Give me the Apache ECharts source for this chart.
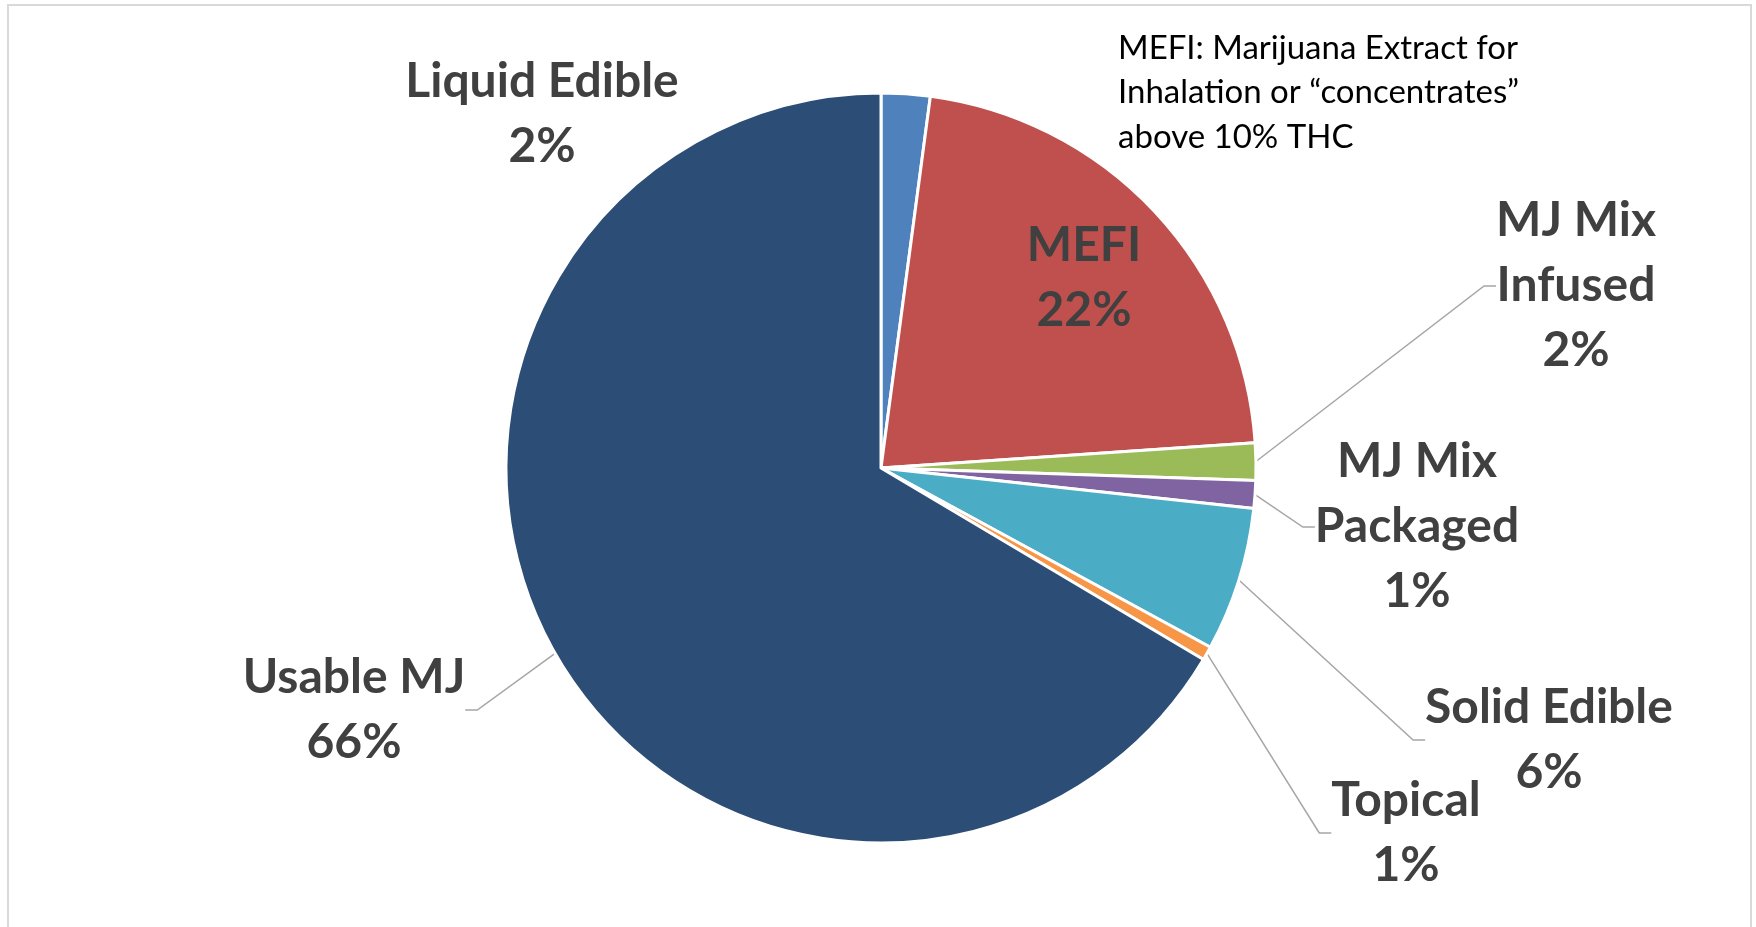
<!DOCTYPE html>
<html>
<head>
<meta charset="utf-8">
<script src="https://cdn.jsdelivr.net/npm/echarts@6/dist/echarts.min.js"></script>
<style>
html,body{margin:0;padding:0;background:#fff;}
#chart{width:1756px;height:927px;}
</style>
</head>
<body>
<div id="chart"></div>
<script>
// ---- data ----
const categories = ['Liquid Edible', 'MEFI', 'MJ Mix\nInfused', 'MJ Mix\nPackaged', 'Solid Edible', 'Topical', 'Usable MJ'];
const shares = [2.1, 21.8, 1.6, 1.2, 6.2, 0.6, 66.4];
const noteLines = ['MEFI: Marijuana Extract for', 'Inhalation or \u201cconcentrates\u201d', 'above 10% THC'];

// ---- styles / layout (kept apart from data) ----
const colors = ['#4F81BD', '#C0504D', '#9BBB59', '#8064A2', '#4BACC6', '#F79646', '#2C4D75'];
const labelCenters = [[542, 114], [1084, 278], [1576, 286], [1417, 527], [1549, 740], [1406, 833], [354, 710]];
const showLine = [false, false, true, true, true, true, true];

const chart = echarts.init(document.getElementById('chart'));
const FONT = 'Lato, "Open Sans", "Noto Sans", sans-serif';

chart.setOption({
  backgroundColor: '#ffffff',
  animation: false,
  graphic: [
    {
      type: 'rect', z: -1,
      shape: { x: 8, y: 5, width: 1743, height: 940 },
      style: { fill: 'none', stroke: '#D9D9D9', lineWidth: 2 }
    },
    {
      type: 'text', left: 1118, top: 26,
      style: {
        text: noteLines.join('\n'),
        fill: '#000000',
        font: '33px ' + FONT,
        lineHeight: 44.5
      }
    }
  ],
  series: [{
    type: 'pie',
    center: [881, 468],
    radius: [0, 375],
    startAngle: 90,
    clockwise: true,
    percentPrecision: 0,
    avoidLabelOverlap: false,
    itemStyle: { borderColor: '#ffffff', borderWidth: 3 },
    label: {
      show: true,
      position: 'outside',
      formatter: '{b}\n{d}%',
      color: '#404040',
      fontFamily: FONT,
      fontWeight: 'bold',
      fontSize: 48,
      lineHeight: 65,
      align: 'center'
    },
    labelLine: {
      show: true,
      length: 20,
      length2: 12,
      smooth: false,
      lineStyle: { color: '#A6A6A6', width: 1.5 }
    },
    labelLayout: function (params) {
      const c = labelCenters[params.dataIndex];
      return { x: c[0], y: c[1], align: 'center', verticalAlign: 'middle' };
    },
    data: categories.map((name, i) => ({
      name: name,
      value: shares[i],
      itemStyle: { color: colors[i] },
      labelLine: { show: showLine[i] }
    }))
  }]
});
</script>
</body>
</html>
